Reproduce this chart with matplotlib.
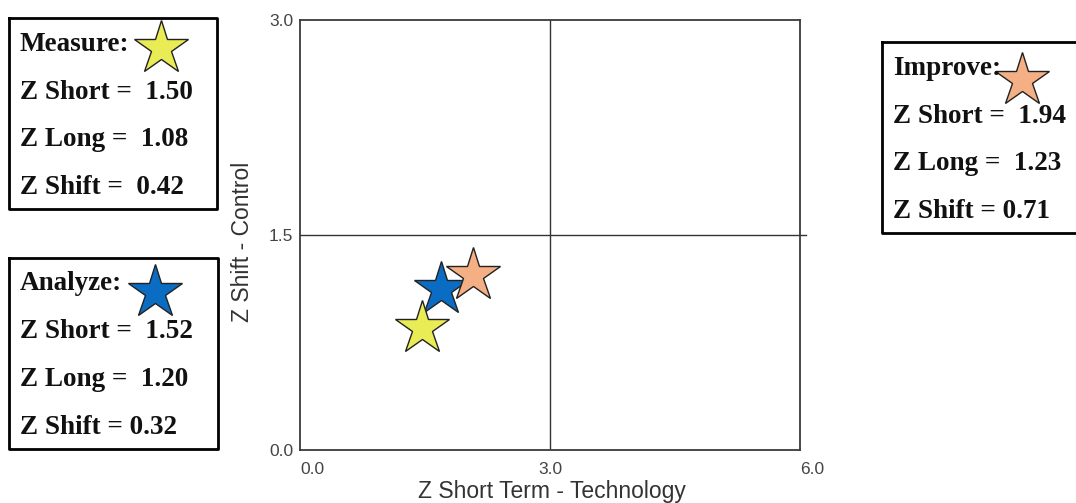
import matplotlib
matplotlib.use("Agg")
import matplotlib.pyplot as plt

plt.rcParams["font.family"] = ["Liberation Sans", "DejaVu Sans"]

# Phase summaries
phases = ["Measure", "Analyze", "Improve"]
z_short = [1.50, 1.52, 1.94]
z_long = [1.08, 1.20, 1.23]
z_shift = [0.42, 0.32, 0.71]
# where each star sits on the chart
star_x = [1.46, 1.69, 2.08]
star_y = [0.85, 1.12, 1.22]
star_colors = ["#E9EC55", "#0A6CC2", "#F4AF84"]
star_z = [4, 3, 5]

x_ticks = [0.0, 3.0, 6.0]
y_ticks = [0.0, 1.5, 3.0]

W, H = 1076, 503
fig = plt.figure(figsize=(W / 100, H / 100), dpi=100)

# main quadrant chart
ax = fig.add_axes([300 / W, 53 / H, 500 / W, 430 / H])
ax.set_xlim(0, 6)
ax.set_ylim(0, 3)
for s in ax.spines.values():
    s.set_color("#3a3a3a")
    s.set_linewidth(1.3)
ax.axvline(3.0, color="#333333", lw=1.0, zorder=1)
ax.plot([0, 1.012], [0.5, 0.5], transform=ax.transAxes,
        color="#333333", lw=1.0, clip_on=False, zorder=1)

for i in range(len(phases)):
    ax.plot(star_x[i], star_y[i], marker="*", ms=41, color=star_colors[i],
            mec="#222222", mew=1.0, zorder=star_z[i])

ax.set_xticks(x_ticks)
ax.set_xticklabels([f"{v:.1f}" for v in x_ticks])
ax.set_yticks(y_ticks)
ax.set_yticklabels([f"{v:.1f}" for v in y_ticks])
ax.tick_params(length=0, labelsize=12.5, labelcolor="#444444", pad=5)
ax.tick_params(axis="x", pad=9)
xl = ax.get_xticklabels()
xl[0].set_ha("left")
xl[2].set_ha("left")
ax.set_xlabel("Z Short Term - Technology", fontsize=16.5, color="#333333")
ax.set_ylabel("Z Shift - Control", fontsize=16.5, color="#333333")
ax.xaxis.set_label_coords(0.504, -0.07)
ax.yaxis.set_label_coords(-0.092, 0.484)

# overlay in pixel coords for the summary boxes
ov = fig.add_axes([0, 0, 1, 1])
ov.set_xlim(0, W)
ov.set_ylim(H, 0)
ov.axis("off")
ov.patch.set_alpha(0)

# (left, top, right, bottom, text x, first line y, star x, star y)
boxes = [
    (9, 18, 217, 209, 20, 44, 161, 48),
    (9, 258, 218, 449, 20, 284, 155, 292),
    (882, 42, 1080, 233, 893, 68, 1022, 80),
]
spaces = [("  ", "  ", "  "), ("  ", "  ", " "), ("  ", "  ", " ")]
for i, (l, t, r, b, tx, ty, sx, sy) in enumerate(boxes):
    ov.plot([l, r, r, l, l], [t, t, b, b, t], color="black", lw=2, clip_on=False)
    sp = spaces[i]
    lines = [f"{phases[i]}:",
             f"Z Short ={sp[0]}{z_short[i]:.2f}",
             f"Z Long ={sp[1]}{z_long[i]:.2f}",
             f"Z Shift ={sp[2]}{z_shift[i]:.2f}"]
    for k, s in enumerate(lines):
        ov.text(tx, ty + 48 * k, s, fontsize=19.5, fontweight="bold",
                family="Liberation Serif", ha="left", va="center", color="#111111")
    ov.plot(sx, sy, marker="*", ms=41, color=star_colors[i],
            mec="#222222", mew=1.0)

fig.savefig("out.png", dpi=100)
